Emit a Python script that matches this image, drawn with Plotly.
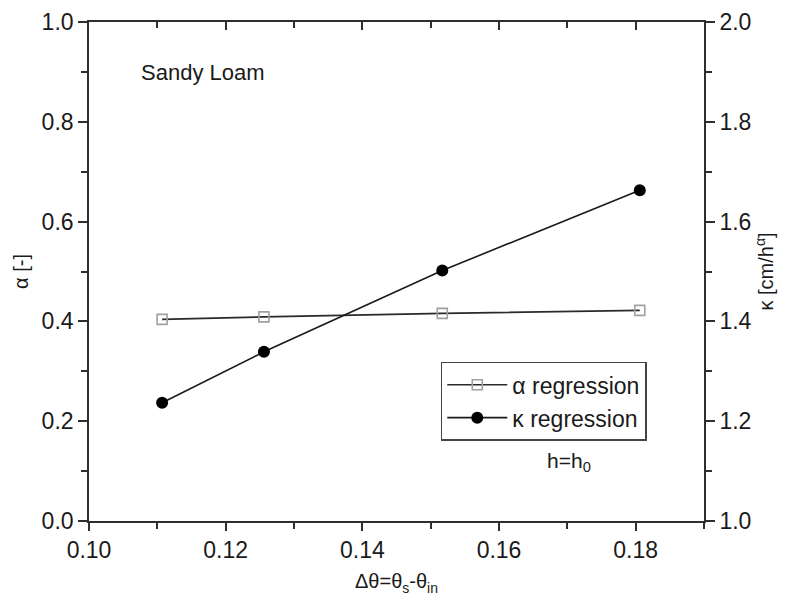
import plotly.graph_objects as go

delta_theta = [0.1107, 0.1256, 0.1517, 0.1806]
alpha_vals = [0.404, 0.409, 0.416, 0.422]
kappa_vals = [1.237, 1.339, 1.502, 1.663]

x_ticks = [0.10, 0.12, 0.14, 0.16, 0.18]
x_tick_labels = ["0.10", "0.12", "0.14", "0.16", "0.18"]
alpha_ticks = [0.0, 0.2, 0.4, 0.6, 0.8, 1.0]
kappa_ticks = [1.0, 1.2, 1.4, 1.6, 1.8, 2.0]

FONT = "Liberation Sans, Arial, sans-serif"
AX = "#2e2e2e"
TXT = "#1a1a1a"

fig = go.Figure()
fig.add_trace(go.Scatter(
    x=delta_theta, y=alpha_vals, mode="lines+markers", name="α regression",
    line=dict(color="#2a2a2a", width=1.6),
    marker=dict(symbol="square-open", size=10, color="#a0a0a0", line=dict(width=1.6, color="#a0a0a0")),
    xaxis="x", yaxis="y"))
fig.add_trace(go.Scatter(
    x=delta_theta, y=kappa_vals, mode="lines+markers", name="κ regression",
    line=dict(color="#1a1a1a", width=1.6),
    marker=dict(symbol="circle", size=12, color="black"),
    xaxis="x", yaxis="y2"))
# invisible trace for top mirror axis
fig.add_trace(go.Scatter(x=[0.10, 0.19], y=[0, 0], mode="markers", marker=dict(opacity=0),
                         showlegend=False, hoverinfo="skip", xaxis="x2", yaxis="y"))

common_axis = dict(showline=True, linecolor=AX, linewidth=1.6, showgrid=False, zeroline=False,
                   automargin=False,
                   tickcolor=AX, tickwidth=1.5, tickfont=dict(family=FONT, size=23, color=TXT))

fig.update_layout(
    template="none",
    width=784, height=605,
    margin=dict(l=81, r=88, t=14, b=92),
    paper_bgcolor="white", plot_bgcolor="white",
    showlegend=True,
    xaxis=dict(range=[0.10, 0.19], tickvals=x_ticks, ticktext=x_tick_labels,
               ticks="outside", ticklen=8,
               minor=dict(dtick=0.01, tick0=0.10, ticks="outside", ticklen=6, tickcolor=AX, tickwidth=1.5),
               title=dict(text="Δθ=θ<sub>s</sub>-θ<sub>in</sub>", font=dict(family=FONT, size=20, color=TXT),
                          standoff=12),
               **common_axis),
    xaxis2=dict(range=[0.10, 0.19], overlaying="x", side="top", showticklabels=False,
                tickvals=x_ticks, ticks="inside", ticklen=8,
                minor=dict(dtick=0.01, tick0=0.10, ticks="inside", ticklen=6, tickcolor=AX, tickwidth=1.5),
                **common_axis),
    yaxis=dict(range=[0, 1.0], tickvals=alpha_ticks, tickformat=".1f",
               ticks="outside", ticklen=9,
               minor=dict(dtick=0.1, tick0=0, ticks="outside", ticklen=6, tickcolor=AX, tickwidth=1.5),
               title=dict(text="α [-]", font=dict(family=FONT, size=20, color=TXT), standoff=8),
               **common_axis),
    yaxis2=dict(range=[1.0, 2.0], tickvals=kappa_ticks, tickformat=".1f", overlaying="y", side="right",
                ticks="outside", ticklen=9,
                minor=dict(dtick=0.1, tick0=1.0, ticks="outside", ticklen=6, tickcolor=AX, tickwidth=1.5),
                title=dict(text="κ [cm/h<sup>α</sup>]", font=dict(family=FONT, size=20, color=TXT), standoff=8),
                **common_axis),
    legend=dict(x=0.572, y=0.319, xanchor="left", yanchor="top",
                bgcolor="white", bordercolor="#444444", borderwidth=1.5,
                font=dict(family=FONT, size=23, color=TXT),
                itemwidth=60, tracegroupgap=0),
    annotations=[
        dict(text="Sandy Loam", x=0.081, y=0.898, xref="paper", yref="paper",
             xanchor="left", yanchor="middle", showarrow=False,
             font=dict(family=FONT, size=22, color=TXT)),
        dict(text="h=h<sub>0</sub>", x=0.741, y=0.118, xref="paper", yref="paper",
             xanchor="left", yanchor="middle", showarrow=False,
             font=dict(family=FONT, size=21, color=TXT)),
    ],
)

fig.write_html("out.html")
